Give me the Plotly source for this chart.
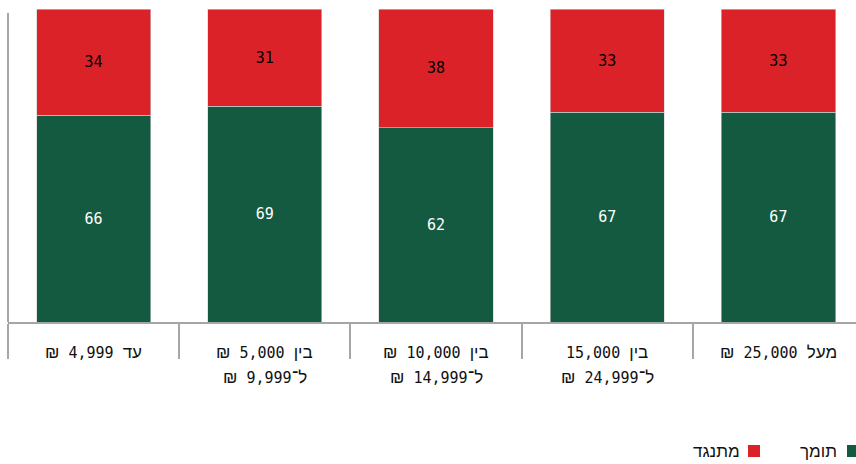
import re
import plotly.graph_objects as go

cat_line1 = ["עד 4,999 ₪", "בין 5,000 ₪", "בין 10,000 ₪", "בין 15,000", "מעל 25,000 ₪"]
cat_line2 = ["", "ל־9,999 ₪", "ל־14,999 ₪", "ל־24,999 ₪", ""]
support = [66, 69, 62, 67, 67]
oppose = [34, 31, 38, 33, 33]
series_names = ["תומך", "מתנגד"]

GREEN = "#145A41"
RED = "#DC2229"
FONT = "DejaVu Sans Mono, Liberation Sans"
LEGFONT = "Liberation Sans"
TXT = "#111111"
RLE, PDF = "\u202b", "\u202c"
H = 313.0   # plot height px
W = 848.0   # plot width px
L = 8.0     # left margin px
T = 9.0     # top margin
B = T + H   # baseline y px (322)

def rtl(s):
    return RLE + s + PDF

def mixed(s):
    # Hebrew words and the sheqel sign in a sans face, numbers in monospace
    s = s.replace(" ", "\u00a0")
    return re.sub(r"([\u0590-\u05FF\u20AA]+)",
                  r"<span style='font-family:Liberation Sans;font-size:17px'>\1</span>", s)

def px(p):
    return (p - L) / W

def py(p):
    return (B - p) / H

cats = [f"c{i}" for i in range(len(cat_line1))]

fig = go.Figure()
fig.add_trace(go.Bar(x=cats, y=support, name=series_names[0], marker_color=GREEN,
                     marker_line_width=0.6, marker_line_color="#d0d0d0",
                     text=[str(v) for v in support], textposition="inside",
                     insidetextanchor="middle",
                     textfont=dict(color="white", size=15, family=FONT)))
fig.add_trace(go.Bar(x=cats, y=oppose, name=series_names[1], marker_color=RED,
                     marker_line_width=0.6, marker_line_color="#d0d0d0",
                     text=[str(v) for v in oppose], textposition="inside",
                     insidetextanchor="middle",
                     textfont=dict(color="black", size=15, family=FONT)))

for c, l1, l2 in zip(cats, cat_line1, cat_line2):
    fig.add_annotation(x=c, y=py(352), xref="x", yref="paper", text=rtl(mixed(l1)),
                       showarrow=False, yanchor="middle",
                       font=dict(size=15, family="DejaVu Sans Mono", color=TXT))
    if l2:
        fig.add_annotation(x=c, y=py(377), xref="x", yref="paper", text=rtl(mixed(l2)),
                           showarrow=False, yanchor="middle",
                           font=dict(size=15, family="DejaVu Sans Mono", color=TXT))

# y axis line
fig.add_shape(type="line", xref="paper", yref="paper", x0=0, x1=0, y0=0, y1=py(13),
              line=dict(color="#a6a6a6", width=2))

# manual RTL legend
ly0, ly1 = py(445), py(457)
fig.add_shape(type="rect", xref="paper", yref="paper", x0=px(847), x1=px(859),
              y0=ly0, y1=ly1, fillcolor=GREEN, line_width=0)
fig.add_annotation(xref="paper", yref="paper", x=px(839), y=py(451),
                   text=rtl(series_names[0]), showarrow=False, xanchor="right",
                   yanchor="middle", font=dict(size=17, family=LEGFONT, color=TXT))
fig.add_shape(type="rect", xref="paper", yref="paper", x0=px(748), x1=px(760),
              y0=ly0, y1=ly1, fillcolor=RED, line_width=0)
fig.add_annotation(xref="paper", yref="paper", x=px(742), y=py(451),
                   text=rtl(series_names[1]), showarrow=False, xanchor="right",
                   yanchor="middle", font=dict(size=17, family=LEGFONT, color=TXT))

fig.update_layout(
    width=856, height=464, barmode="stack", bargap=0.333,
    margin=dict(l=L, r=0, t=T, b=464 - B),
    paper_bgcolor="white", plot_bgcolor="white", showlegend=False,
    xaxis=dict(type="category", showticklabels=False, range=[-0.5, -0.5 + W / 171.2],
               tickson="boundaries", ticks="outside", ticklen=35, tickcolor="#a6a6a6",
               tickwidth=2, showline=True, linecolor="#a6a6a6", linewidth=2,
               showgrid=False, zeroline=False),
    yaxis=dict(range=[0, 100], visible=False, showgrid=False, zeroline=False),
)

fig.write_html("out.html", config={"displayModeBar": False},
               post_script="document.body.style.margin='0';"
                           "document.documentElement.style.overflow='hidden';"
                           "document.body.style.overflow='hidden';")
